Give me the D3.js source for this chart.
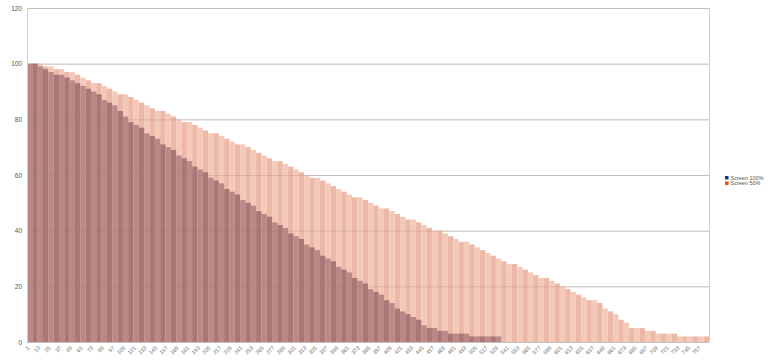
<!DOCTYPE html>
<html>
<head>
<meta charset="utf-8">
<script src="https://cdn.jsdelivr.net/npm/d3@7"></script>
<style>
  body { margin: 0; background: #fff; }
  text { font-family: "Liberation Sans", Arial, sans-serif; }
</style>
</head>
<body>
<svg id="chart" width="768" height="364"></svg>
<script>
// rows 1..768, drawn in groups of 6 rows
const categories = d3.range(1, 768, 6);

const screen100 = [
  100, 100, 99, 98, 97, 96, 96, 95, 94, 93,
  92, 91, 90, 89, 87, 86, 85, 83, 81, 79,
  78, 77, 75, 74, 73, 71, 70, 69, 67, 66,
  65, 63, 62, 61, 59, 58, 57, 55, 54, 53,
  51, 50, 49, 47, 46, 45, 43, 42, 41, 39,
  38, 37, 35, 34, 33, 31, 30, 29, 27, 26,
  25, 23, 22, 21, 19, 18, 17, 15, 14, 12,
  11, 10, 9, 8, 6, 5, 5, 4, 4, 3,
  3, 3, 3, 2, 2, 2, 2, 2, 2
];

const screen50 = [
  100, 100, 100, 99, 99, 98, 98, 97, 97, 96,
  95, 94, 93, 93, 92, 91, 90, 89, 89, 88,
  87, 86, 85, 84, 83, 83, 82, 81, 80, 79,
  79, 78, 77, 76, 75, 75, 74, 73, 72, 71,
  71, 70, 69, 68, 67, 66, 65, 65, 64, 63,
  62, 61, 60, 59, 59, 58, 57, 56, 55, 54,
  53, 52, 52, 51, 50, 49, 48, 48, 47, 46,
  45, 44, 44, 43, 42, 41, 40, 40, 39, 38,
  37, 36, 36, 35, 34, 33, 32, 31, 30, 29,
  28, 28, 27, 26, 25, 24, 23, 23, 22, 21,
  20, 19, 18, 17, 16, 15, 15, 14, 12, 11,
  10, 8, 7, 5, 5, 5, 4, 4, 3, 3,
  3, 3, 2, 2, 2, 2, 2, 2
];

const tickLabels = categories.filter((c, i) => i % 2 === 0);
const yTicks = [0, 20, 40, 60, 80, 100, 120];
const seriesNames = ["Screen 100%", "Screen 50%"];
const seriesColors = ["#004586", "#ff420e"];

const svg = d3.select("#chart");
const plotLeft = 27, plotRight = 709, plotTop = 8, plotBottom = 342;

const x = d3.scaleBand().domain(categories).range([plotLeft, plotRight]).padding(0);
const y = d3.scaleLinear().domain([0, 120]).range([plotBottom, plotTop]);

function gridlines(color, opacity) {
  svg.append("g")
    .selectAll("line")
    .data(yTicks)
    .enter()
    .append("line")
    .attr("x1", plotLeft)
    .attr("x2", plotRight)
    .attr("y1", d => y(d) + 0.5)
    .attr("y2", d => y(d) + 0.5)
    .attr("stroke", color)
    .attr("stroke-opacity", opacity)
    .attr("stroke-width", 1);
}

gridlines("#d6d6d6", 1);

// Screen 50% bars (lighter, behind)
svg.append("g")
  .selectAll("rect")
  .data(screen50)
  .enter()
  .append("rect")
  .attr("x", (d, i) => x(categories[i]))
  .attr("width", x.bandwidth())
  .attr("y", d => y(d))
  .attr("height", d => plotBottom - y(d))
  .attr("fill", (d, i) => i % 2 ? "#ecb8a7" : "#f5c9b9");

// Screen 100% bars overlap on top
svg.append("g")
  .selectAll("rect")
  .data(screen100)
  .enter()
  .append("rect")
  .attr("x", (d, i) => x(categories[i]))
  .attr("width", x.bandwidth())
  .attr("y", d => y(d))
  .attr("height", d => plotBottom - y(d))
  .attr("fill", (d, i) => i % 2 ? "#ab7676" : "#bb8888");

// gridlines faintly seen through the transparent bars
gridlines("#9a7a70", 0.25);

// frame sides
svg.append("line")
  .attr("x1", plotLeft + 0.5).attr("x2", plotLeft + 0.5)
  .attr("y1", plotTop).attr("y2", plotBottom)
  .attr("stroke", "#cfcfcf");
svg.append("line")
  .attr("x1", plotRight + 0.5).attr("x2", plotRight + 0.5)
  .attr("y1", plotTop).attr("y2", plotBottom)
  .attr("stroke", "#cfcfcf");

// y axis
const yAxis = svg.append("g")
  .attr("transform", `translate(${plotLeft - 4},0)`)
  .call(d3.axisLeft(y).tickValues(yTicks).tickSize(0).tickPadding(1));
yAxis.select(".domain").remove();
yAxis.selectAll("text")
  .attr("font-size", 6.5)
  .attr("fill", "#555");

// x axis
const shift = -x.bandwidth() / 2 + x.bandwidth() / 12;
const xAxis = svg.append("g")
  .attr("transform", `translate(${shift},${plotBottom})`)
  .call(d3.axisBottom(x).tickValues(tickLabels).tickSize(0));
xAxis.select(".domain").remove();
xAxis.selectAll("text")
  .attr("font-size", 5.5)
  .attr("fill", "#666")
  .attr("text-anchor", "end")
  .attr("dy", "0.35em")
  .attr("transform", "translate(1,5) rotate(-45)")
  .attr("y", 0)
  .attr("x", 0);

// legend
const legend = svg.append("g").attr("transform", "translate(725,176)");
seriesNames.forEach(function(name, i) {
  const row = legend.append("g").attr("transform", `translate(0,${i * 5.5})`);
  row.append("rect")
    .attr("width", 3.5).attr("height", 3.5)
    .attr("fill", seriesColors[i]);
  row.append("text")
    .attr("x", 5.5)
    .attr("y", 1.8)
    .attr("dy", "0.35em")
    .attr("font-size", 5.5)
    .attr("fill", "#555")
    .text(name);
});
</script>
</body>
</html>
